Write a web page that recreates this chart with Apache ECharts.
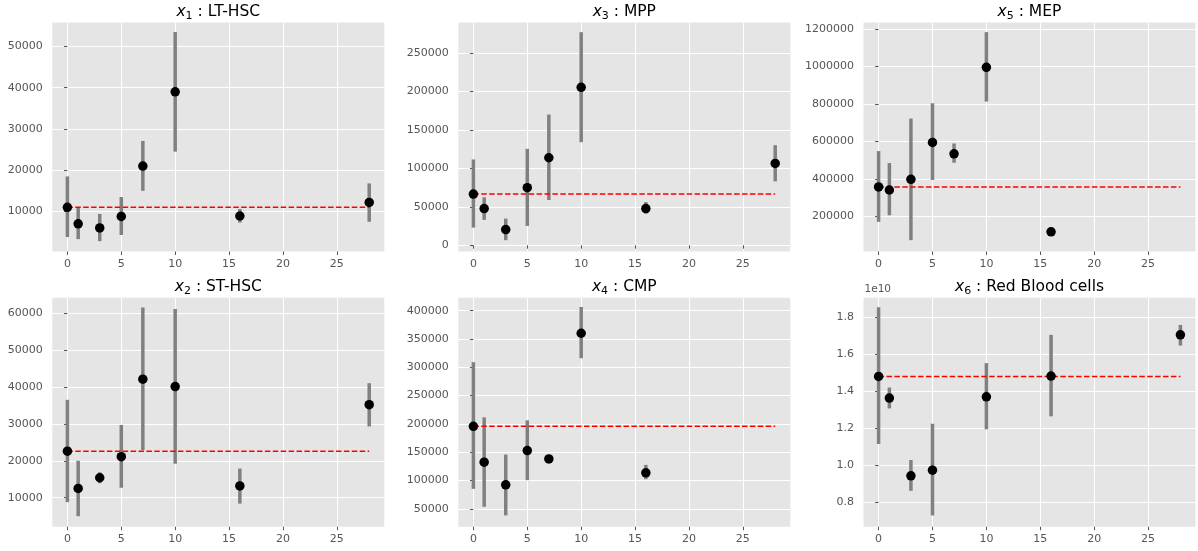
<!DOCTYPE html>
<html>
<head>
<meta charset="utf-8">
<script src="https://cdn.jsdelivr.net/npm/echarts@6/dist/echarts.min.js"></script>
<style>
html,body{margin:0;padding:0;background:#fff;}
#chart{width:1198px;height:551px;}
</style>
</head>
<body>
<div id="chart"></div>
<script>
// ---- data ----
const days = [0, 1, 3, 5, 7, 10, 16, 28];
const xTicks = [0, 5, 10, 15, 20, 25];

// x1 : LT-HSC
const ltHscMean = [11000, 7000, 6000, 8800, 21000, 39000, 8900, 12200];
const ltHscLow  = [3800, 3300, 2800, 4300, 15000, 24500, 7300, 7500];
const ltHscHigh = [18500, 11000, 9400, 13500, 27100, 53500, 10600, 16800];
const ltHscRef = 11000;
const ltHscTicks = [10000, 20000, 30000, 40000, 50000];

// x2 : ST-HSC
const stHscMean = [22600, 12500, 15400, 21100, 42100, 40100, 13200, 35200];
const stHscLow  = [8800, 5000, 13900, 12700, 22900, 19200, 8400, 29300];
const stHscHigh = [36500, 20000, 16900, 29700, 61500, 61100, 17900, 41000];
const stHscRef = 22600;
const stHscTicks = [10000, 20000, 30000, 40000, 50000, 60000];

// x3 : MPP
const mppMean = [66600, 47600, 20300, 74800, 113800, 205500, 47600, 106400];
const mppLow  = [22900, 32900, 6500, 25100, 58800, 134100, 41100, 83000];
const mppHigh = [111600, 62300, 34600, 125400, 170000, 277200, 56200, 130200];
const mppRef = 66600;
const mppTicks = [0, 50000, 100000, 150000, 200000, 250000];

// x4 : CMP
const cmpMean = [195600, 132200, 92300, 152800, 138100, 360100, 113400, null];
const cmpLow  = [85200, 53500, 38300, 100500, 133400, 316000, 102300, null];
const cmpHigh = [309000, 211500, 145700, 206200, 145100, 406500, 127500, null];
const cmpRef = 195600;
const cmpTicks = [50000, 100000, 150000, 200000, 250000, 300000, 350000, 400000];

// x5 : MEP
const mepMean = [358000, 341600, 398200, 594700, 534500, 994700, 118600, null];
const mepLow  = [171700, 207100, 74300, 394700, 486700, 812400, 104400, null];
const mepHigh = [548700, 485000, 722100, 803500, 589400, 1182300, 132700, null];
const mepRef = 358000;
const mepTicks = [200000, 400000, 600000, 800000, 1000000, 1200000];

// x6 : Red Blood cells
const rbcMean = [1.48e10, 1.363e10, 0.942e10, 0.973e10, null, 1.370e10, 1.482e10, 1.705e10];
const rbcLow  = [1.115e10, 1.307e10, 0.861e10, 0.728e10, null, 1.194e10, 1.264e10, 1.647e10];
const rbcHigh = [1.854e10, 1.42e10, 1.028e10, 1.224e10, null, 1.552e10, 1.705e10, 1.759e10];
const rbcRef = 1.48e10;
const rbcTicks = [0.8e10, 1.0e10, 1.2e10, 1.4e10, 1.6e10, 1.8e10];

const panels = [
  {sub: '1', label: 'LT-HSC', mean: ltHscMean, low: ltHscLow, high: ltHscHigh, ref: ltHscRef, ticks: ltHscTicks},
  {sub: '3', label: 'MPP', mean: mppMean, low: mppLow, high: mppHigh, ref: mppRef, ticks: mppTicks},
  {sub: '5', label: 'MEP', mean: mepMean, low: mepLow, high: mepHigh, ref: mepRef, ticks: mepTicks},
  {sub: '2', label: 'ST-HSC', mean: stHscMean, low: stHscLow, high: stHscHigh, ref: stHscRef, ticks: stHscTicks},
  {sub: '4', label: 'CMP', mean: cmpMean, low: cmpLow, high: cmpHigh, ref: cmpRef, ticks: cmpTicks},
  {sub: '6', label: 'Red Blood cells', mean: rbcMean, low: rbcLow, high: rbcHigh, ref: rbcRef, ticks: rbcTicks, scale: 1e10}
];

// ---- layout (pixels / axis extents) ----
const colLeft = [52.3, 458.3, 863.5];
const rowTop = [22.5, 297.7];
const plotW = 332, plotH = 229;
const yExtents = [
  [300, 55800],
  [-8200, 289800],
  [14000, 1233600],
  [2150, 64150],
  [18300, 422900],
  [0.667e10, 1.906e10]
];
const xExtent = [-1.4, 29.4];

const FONT = 'DejaVu Sans';
const grids = [], xAxes = [], yAxes = [], series = [], titles = [];

panels.forEach((p, i) => {
  const col = i % 3, row = Math.floor(i / 3);
  grids.push({
    left: colLeft[col], top: rowTop[row], width: plotW, height: plotH,
    show: true, backgroundColor: '#E5E5E5', borderWidth: 0, containLabel: false
  });
  titles.push({
    text: '{i|x}{s|' + p.sub + '}{t| : ' + p.label + '}',
    left: colLeft[col] + plotW / 2,
    top: rowTop[row] - 21,
    textAlign: 'center',
    padding: 0,
    textStyle: {
      fontWeight: 'normal',
      rich: {
        i: {fontFamily: FONT, fontStyle: 'italic', fontWeight: 'normal', fontSize: 15.5, color: '#000', lineHeight: 20, verticalAlign: 'middle'},
        s: {fontFamily: FONT, fontWeight: 'normal', fontSize: 11, color: '#000', lineHeight: 11, verticalAlign: 'bottom'},
        t: {fontFamily: FONT, fontWeight: 'normal', fontSize: 15.5, color: '#000', lineHeight: 20, verticalAlign: 'middle'}
      }
    }
  });
  if (p.scale) {
    // scale offset text ("1e10") above the y axis
    titles.push({
      text: '1e10',
      left: colLeft[col] + 1,
      top: rowTop[row] - 13.5,
      padding: 0,
      textStyle: {fontFamily: FONT, fontWeight: 'normal', fontSize: 10.5, color: '#555555'}
    });
  }
  xAxes.push({
    type: 'value', gridIndex: i, min: xExtent[0], max: xExtent[1],
    axisLine: {show: false},
    axisTick: {show: true, length: 3.5, lineStyle: {color: '#555555', width: 1}, customValues: xTicks},
    axisLabel: {customValues: xTicks, color: '#555555', fontFamily: FONT, fontSize: 11, margin: 7},
    splitLine: {show: true, lineStyle: {color: '#ffffff', width: 1}}
  });
  const sc = p.scale || 1;
  yAxes.push({
    type: 'value', gridIndex: i, min: yExtents[i][0], max: yExtents[i][1],
    axisLine: {show: false},
    axisTick: {show: true, length: 3.5, lineStyle: {color: '#555555', width: 1}, customValues: p.ticks},
    axisLabel: {
      customValues: p.ticks, color: '#555555', fontFamily: FONT, fontSize: 11, margin: 9.5,
      formatter: v => p.scale ? (v / sc).toFixed(1) : String(Math.round(v))
    },
    splitLine: {show: true, lineStyle: {color: '#ffffff', width: 1}}
  });

  const barData = [], dotData = [];
  days.forEach((d, k) => {
    if (p.mean[k] != null) {
      barData.push([d, p.low[k], p.high[k]]);
      dotData.push([d, p.mean[k]]);
    }
  });

  series.push({
    type: 'custom', xAxisIndex: i, yAxisIndex: i, z: 2,
    data: barData,
    encode: {x: 0, y: [1, 2]},
    renderItem: (params, api) => {
      const a = api.coord([api.value(0), api.value(1)]);
      const b = api.coord([api.value(0), api.value(2)]);
      return {
        type: 'line',
        shape: {x1: a[0], y1: a[1], x2: b[0], y2: b[1]},
        style: {stroke: '#808080', lineWidth: 3.5, lineCap: 'butt'}
      };
    },
    silent: true
  });
  series.push({
    type: 'line', xAxisIndex: i, yAxisIndex: i, z: 3,
    data: [[days[0], p.ref], [days[days.length - 1], p.ref]],
    symbol: 'none',
    lineStyle: {color: '#ff0000', width: 1.5, type: [5.5, 2.4]},
    silent: true
  });
  series.push({
    type: 'scatter', xAxisIndex: i, yAxisIndex: i, z: 4,
    data: dotData,
    symbol: 'circle', symbolSize: 9.5,
    itemStyle: {color: '#000000', opacity: 1},
    silent: true
  });
});

const chart = echarts.init(document.getElementById('chart'), null, {renderer: 'canvas'});
chart.setOption({
  animation: false,
  backgroundColor: '#ffffff',
  textStyle: {fontFamily: FONT},
  title: titles,
  grid: grids,
  xAxis: xAxes,
  yAxis: yAxes,
  series: series
});
</script>
</body>
</html>
